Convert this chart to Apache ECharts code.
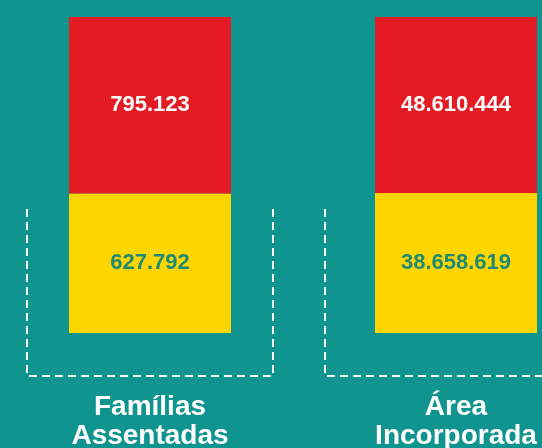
<!DOCTYPE html>
<html>
<head>
<meta charset="utf-8">
<script src="https://cdn.jsdelivr.net/npm/echarts@6/dist/echarts.min.js"></script>
<style>
  html, body { margin: 0; padding: 0; background: #10948f; }
  #chart { width: 542px; height: 448px; }
</style>
</head>
<body>
<div id="chart"></div>
<script>
// dados
var categorias = ['Famílias\nAssentadas', 'Área\nIncorporada'];
var valoresVermelho = [795123, 48610444];
var valoresAmarelo = [627792, 38658619];

// formata com ponto como separador de milhar
function fmt(n) {
    return String(n).replace(/\B(?=(\d{3})+(?!\d))/g, '.');
}

// cada barra tem a mesma altura total, entao normaliza
var fracAmarelo = [];
var fracVermelho = [];
for (var i = 0; i < categorias.length; i++) {
    var total = valoresVermelho[i] + valoresAmarelo[i];
    fracAmarelo.push(valoresAmarelo[i] / total);
    fracVermelho.push(valoresVermelho[i] / total);
}

var myChart = echarts.init(document.getElementById('chart'));

var option = {
    backgroundColor: '#10948f',
    animation: false,
    grid: { left: -3, width: 612, top: 17, bottom: 115, outerBoundsMode: 'none', containLabel: false },
    xAxis: {
        type: 'category',
        data: categorias,
        axisLine: { show: false },
        axisTick: { show: false },
        axisLabel: {
            margin: 60,
            color: '#ffffff',
            fontFamily: 'Liberation Sans, Arial, sans-serif',
            fontWeight: 'bold',
            fontSize: 28,
            lineHeight: 29
        }
    },
    yAxis: { type: 'value', min: 0, max: 1, show: false },
    series: [{
        name: 'amarelo',
        type: 'bar',
        stack: 'total',
        barWidth: 162,
        itemStyle: { color: '#fdd500' },
        label: {
            show: true,
            position: 'inside',
            color: '#1f8a74',
            fontFamily: 'Liberation Sans, Arial, sans-serif',
            fontWeight: 'bold',
            fontSize: 22,
            formatter: function (p) { return fmt(valoresAmarelo[p.dataIndex]); }
        },
        data: fracAmarelo
    }, {
        name: 'vermelho',
        type: 'bar',
        stack: 'total',
        barWidth: 162,
        itemStyle: { color: '#e41b22' },
        label: {
            show: true,
            position: 'inside',
            color: '#ffffff',
            fontFamily: 'Liberation Sans, Arial, sans-serif',
            fontWeight: 'bold',
            fontSize: 22,
            formatter: function (p) { return fmt(valoresVermelho[p.dataIndex]); }
        },
        data: fracVermelho
    }]
};

myChart.setOption(option);

// colchetes tracejados em volta da parte de baixo de cada barra
var meiaLargEsq = [123, 131];
var meiaLargDir = [123, 131];
var base = myChart.convertToPixel({ yAxisIndex: 0 }, 0);
var graficos = [];
for (var j = 0; j < categorias.length; j++) {
    var cx = myChart.convertToPixel({ xAxisIndex: 0 }, categorias[j]);
    var x1 = cx - meiaLargEsq[j];
    var x2 = cx + meiaLargDir[j];
    graficos.push({
        type: 'polyline',
        silent: true,
        shape: { points: [[x1, 209], [x1, base + 43], [x2, base + 43], [x2, 209]] },
        style: { stroke: '#f2fbfa', lineWidth: 2, lineDash: [8, 5], fill: null }
    });
}
myChart.setOption({ graphic: graficos });
</script>
</body>
</html>
